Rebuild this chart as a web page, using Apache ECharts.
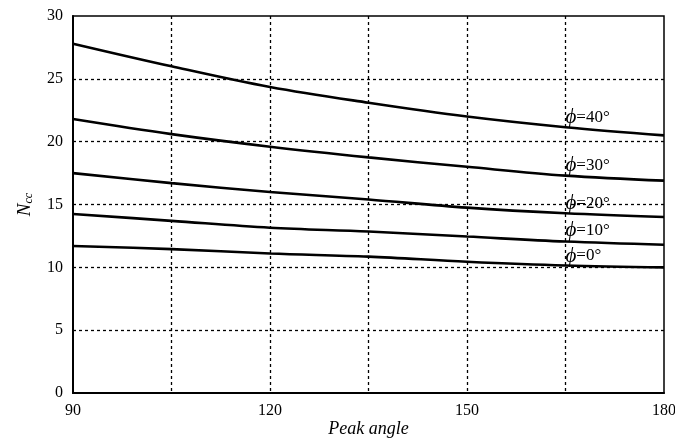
<!DOCTYPE html>
<html>
<head>
<meta charset="UTF-8">
<title>Ncc vs Peak angle</title>
<script src="https://cdn.jsdelivr.net/npm/echarts@6/dist/echarts.min.js"></script>
<style>
  html, body { margin: 0; padding: 0; background: #fff; }
  #main { width: 675px; height: 441px; }
</style>
</head>
<body>
<div id="main"></div>
<script type="text/javascript">
// peak angle (deg)
var angles = [90, 105, 120, 135, 150, 165, 180];
// N_cc, one array per friction angle
var phi40 = [27.8, 26.0, 24.35, 23.1, 22.0, 21.15, 20.5];
var phi30 = [21.8, 20.6, 19.6, 18.75, 18.0, 17.3, 16.9];
var phi20 = [17.5, 16.7, 16.0, 15.4, 14.75, 14.3, 14.0];
var phi10 = [14.25, 13.7, 13.15, 12.85, 12.45, 12.05, 11.8];
var phi0 = [11.7, 11.45, 11.1, 10.85, 10.45, 10.15, 10.0];
var seriesNames = ['40', '30', '20', '10', '0'];
var seriesData = [phi40, phi30, phi20, phi10, phi0];
// where each curve label sits (data coords)
var labelAngle = 165;
var labelY = [21.95, 18.1, 15.1, 12.9, 10.9];

var chart = echarts.init(document.getElementById('main'));
var font = '"Liberation Serif", "DejaVu Serif", serif';

var series = [];
for (var i = 0; i < seriesData.length; i++) {
  var pts = [];
  for (var j = 0; j < angles.length; j++) pts.push([angles[j], seriesData[i][j]]);
  series.push({
    type: 'line',
    data: pts,
    smooth: 0.35,
    symbol: 'none',
    lineStyle: { color: '#000', width: 2.6 },
    markPoint: {
      symbol: 'circle',
      symbolSize: 0,
      data: [{ coord: [labelAngle, labelY[i]] }],
      label: {
        show: true,
        position: 'right',
        distance: 0,
        formatter: '{p|ϕ}{t|=' + seriesNames[i] + '°}',
        rich: {
          p: { fontFamily: font, fontStyle: 'italic', fontSize: 21, color: '#000' },
          t: { fontFamily: font, fontSize: 17, color: '#000' }
        }
      }
    }
  });
}

var option = {
  animation: false,
  grid: {
    left: 73, right: 11, top: 16, bottom: 48,
    containLabel: false,
    outerBoundsMode: 'none',
    show: true, borderColor: '#000', borderWidth: 1.5
  },
  xAxis: {
    type: 'value',
    min: 90, max: 180, interval: 15,
    name: 'Peak angle',
    nameLocation: 'middle',
    nameMoveOverlap: false,
    nameGap: 27,
    nameTextStyle: { fontFamily: font, fontStyle: 'italic', fontSize: 18, color: '#000' },
    axisLine: { lineStyle: { color: '#000', width: 2 } },
    axisTick: { show: false },
    axisLabel: {
      fontFamily: font, fontSize: 16, color: '#000', margin: 10,
      formatter: function (v) { return v % 30 === 0 ? String(v) : ''; }
    },
    splitLine: { show: true, showMinLine: false, showMaxLine: false, lineStyle: { color: '#000', type: [3, 3], width: 1.3 } }
  },
  yAxis: {
    type: 'value',
    min: 0, max: 30, interval: 5,
    name: '{n|N}{s|cc}',
    nameLocation: 'middle',
    nameMoveOverlap: false,
    nameGap: 38,
    nameRotate: 90,
    nameTextStyle: {
      rich: {
        n: { fontFamily: font, fontStyle: 'italic', fontSize: 19, color: '#000' },
        s: { fontFamily: font, fontStyle: 'italic', fontSize: 12, color: '#000', verticalAlign: 'bottom', padding: [8, 0, 0, 0] }
      }
    },
    axisLine: { show: true, lineStyle: { color: '#000', width: 2 } },
    axisTick: { show: false },
    axisLabel: { fontFamily: font, fontSize: 16, color: '#000', margin: 10 },
    splitLine: { show: true, showMinLine: false, showMaxLine: false, lineStyle: { color: '#000', type: [3, 3], width: 1.3 } }
  },
  series: series
};

chart.setOption(option);
</script>
</body>
</html>
